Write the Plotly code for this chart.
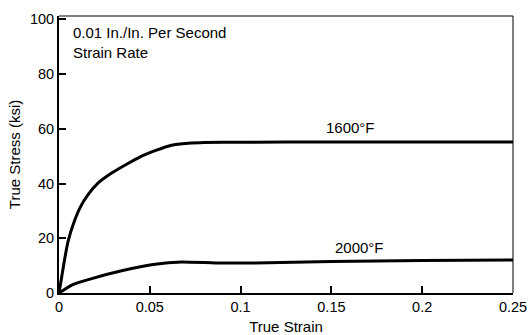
import plotly.graph_objects as go

# Data
strain_1600 = [0, 0.0018, 0.0033, 0.0051, 0.0079, 0.0116, 0.0161, 0.0216, 0.029, 0.0382, 0.0455, 0.0529, 0.062, 0.0712, 0.08, 0.1, 0.15, 0.2, 0.25]
stress_1600 = [0, 7.1, 13.1, 19.1, 25.2, 31.2, 36.0, 40.2, 43.8, 47.4, 50.0, 52.0, 54.0, 54.7, 55.0, 55.1, 55.2, 55.2, 55.2]

strain_2000 = [0, 0.007, 0.0161, 0.0345, 0.0529, 0.0676, 0.086, 0.108, 0.15, 0.2, 0.25]
stress_2000 = [0, 2.9, 4.9, 8.1, 10.5, 11.3, 11.0, 11.0, 11.5, 11.9, 12.1]

x_ticks = [0, 0.05, 0.1, 0.15, 0.2, 0.25]
x_tick_labels = ["0", "0.05", "0.1", "0.15", "0.2", "0.25"]
y_ticks = [0, 20, 40, 60, 80, 100]
y_tick_labels = ["0", "20", "40", "60", "80", "100"]

FONT = "Liberation Sans, Arial, sans-serif"

fig = go.Figure()
fig.add_trace(go.Scatter(x=strain_1600, y=stress_1600, mode="lines",
                         line=dict(color="black", width=3, shape="spline", smoothing=0.4),
                         showlegend=False))
fig.add_trace(go.Scatter(x=strain_2000, y=stress_2000, mode="lines",
                         line=dict(color="black", width=3, shape="spline", smoothing=0.4),
                         showlegend=False))

fig.add_annotation(x=0.1605, y=55, text="1600°F", showarrow=False,
                   xanchor="center", yanchor="bottom", yshift=4,
                   font=dict(family=FONT, size=15, color="black"))
fig.add_annotation(x=0.1655, y=12, text="2000°F", showarrow=False,
                   xanchor="center", yanchor="bottom", yshift=2,
                   font=dict(family=FONT, size=15, color="black"))
fig.add_annotation(x=0.026, y=0.978, xref="paper", yref="paper",
                   text="0.01 In./In. Per Second<br>Strain Rate", showarrow=False,
                   xanchor="left", yanchor="top", align="left",
                   font=dict(family=FONT, size=15, color="black"))

# thin top/right frame
fig.add_shape(type="line", xref="paper", yref="paper", x0=0, x1=1, y0=1, y1=1,
              line=dict(color="black", width=1))
fig.add_shape(type="line", xref="paper", yref="paper", x0=1, x1=1, y0=0, y1=1,
              line=dict(color="black", width=1))

fig.update_layout(
    width=530, height=335,
    margin=dict(l=59, r=17, t=16, b=42),
    paper_bgcolor="white", plot_bgcolor="white",
    font=dict(family=FONT, size=14.5, color="black"),
    xaxis=dict(range=[0, 0.25], tickvals=x_ticks, ticktext=x_tick_labels, automargin=False,
               showgrid=False, zeroline=False, showline=True, linecolor="black", linewidth=2,
               ticks="inside", ticklen=7, tickwidth=1.5, tickcolor="black",
               tickfont=dict(size=14.5),
               title=dict(text="True Strain", standoff=14, font=dict(size=15))),
    yaxis=dict(range=[0, 101.2], tickvals=y_ticks, ticktext=y_tick_labels, automargin=False,
               showgrid=False, zeroline=False, showline=True, linecolor="black", linewidth=2,
               ticks="inside", ticklen=7, tickwidth=1.5, tickcolor="black",
               tickfont=dict(size=14.5),
               title=dict(text="True Stress (ksi)", standoff=6, font=dict(size=15))),
)

# remove the page's default body margin so the 530x335 figure fills the window exactly
fig.write_html("out.html", config={"displayModeBar": False},
               post_script="document.body.style.margin='0';document.body.style.overflow='hidden';")
